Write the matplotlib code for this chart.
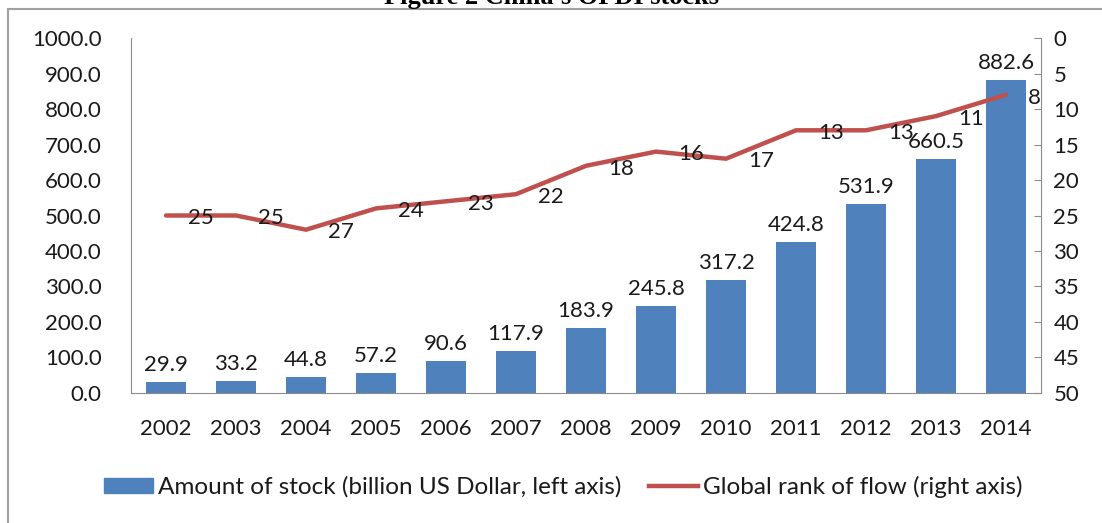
import matplotlib
matplotlib.use("Agg")
import matplotlib.pyplot as plt
from matplotlib.patches import Rectangle
from matplotlib.lines import Line2D

plt.rcParams['font.family'] = ['Lato', 'DejaVu Sans']

# data
years = ['2002', '2003', '2004', '2005', '2006', '2007', '2008',
         '2009', '2010', '2011', '2012', '2013', '2014']
stock = [29.9, 33.2, 44.8, 57.2, 90.6, 117.9, 183.9,
         245.8, 317.2, 424.8, 531.9, 660.5, 882.6]
rank = [25, 25, 27, 24, 23, 22, 18, 16, 17, 13, 13, 11, 8]

left_ticks = [0, 100, 200, 300, 400, 500, 600, 700, 800, 900, 1000]
right_ticks = [0, 5, 10, 15, 20, 25, 30, 35, 40, 45, 50]

blue = '#4F81BD'
red = '#C0504D'
txt = '#1a1a1a'
grey = '#8c8c8c'
fs = 16

fig = plt.figure(figsize=(11.02, 5.23), dpi=100)
ax = fig.add_axes([0.1189, 0.2486, 0.9446 - 0.1189, 0.9273 - 0.2486])

x = list(range(len(years)))
ax.bar(x, stock, width=0.56, color=blue, zorder=2)
for xi, v in zip(x, stock):
    ax.annotate(f"{v:.1f}", (xi, v), xytext=(0, 5), textcoords='offset points',
                ha='center', va='bottom', fontsize=fs, color=txt)

ax.set_xlim(-0.5, len(years) - 0.5)
ax.set_ylim(0, 1000)
ax.set_yticks(left_ticks)
ax.set_yticklabels([f"{t:.1f}" for t in left_ticks])
ax.set_xticks(x)
ax.set_xticklabels(years)
ax.tick_params(axis='y', length=0, pad=21, labelsize=fs, labelcolor=txt)
ax.tick_params(axis='x', length=0, pad=19, labelsize=fs, labelcolor=txt)
for s in ['top', 'right']:
    ax.spines[s].set_visible(False)
for s in ['left', 'bottom']:
    ax.spines[s].set_color(grey)

ax2 = ax.twinx()
ax2.plot(x, rank, color=red, lw=3.2, solid_capstyle='round', zorder=3)
for xi, r in zip(x, rank):
    ax2.annotate(str(r), (xi, r), xytext=(16, -2), textcoords='offset points',
                 ha='left', va='center', fontsize=fs, color=txt)
ax2.set_ylim(50, 0)
ax2.set_yticks(right_ticks)
ax2.tick_params(axis='y', direction='in', length=5, color=grey, pad=9,
                labelsize=fs, labelcolor=txt)
for s in ['top', 'left', 'bottom']:
    ax2.spines[s].set_visible(False)
ax2.spines['right'].set_color(grey)

# legend
handles = [Rectangle((0, 0), 1, 1, color=blue),
           Line2D([0], [0], color=red, lw=3.2)]
labels = ['Amount of stock (billion US Dollar, left axis)',
          'Global rank of flow (right axis)']
fig.legend(handles, labels, loc='center', bbox_to_anchor=(0.511, 0.069),
           ncol=2, frameon=False, fontsize=17.5, handlelength=2.0,
           handleheight=0.58, handletextpad=0.2, columnspacing=1.15,
           labelcolor=txt)

# outer chart frame (only top and left edges visible)
fig.add_artist(Line2D([8 / 1102, 8 / 1102], [0, 1 - 9 / 523], color='#a0a0a0', lw=1.5,
                      transform=fig.transFigure))
fig.add_artist(Line2D([8 / 1102, 1], [1 - 9 / 523, 1 - 9 / 523], color='#a0a0a0', lw=1.5,
                      transform=fig.transFigure))

# cut-off caption above the chart
fig.text(0.5, 1 - 4 / 523, "Figure 2 China's OFDI stocks", ha='center', va='baseline',
         fontsize=19, fontweight='bold', family='Liberation Serif', color='black')

fig.savefig('out.png', dpi=100)
